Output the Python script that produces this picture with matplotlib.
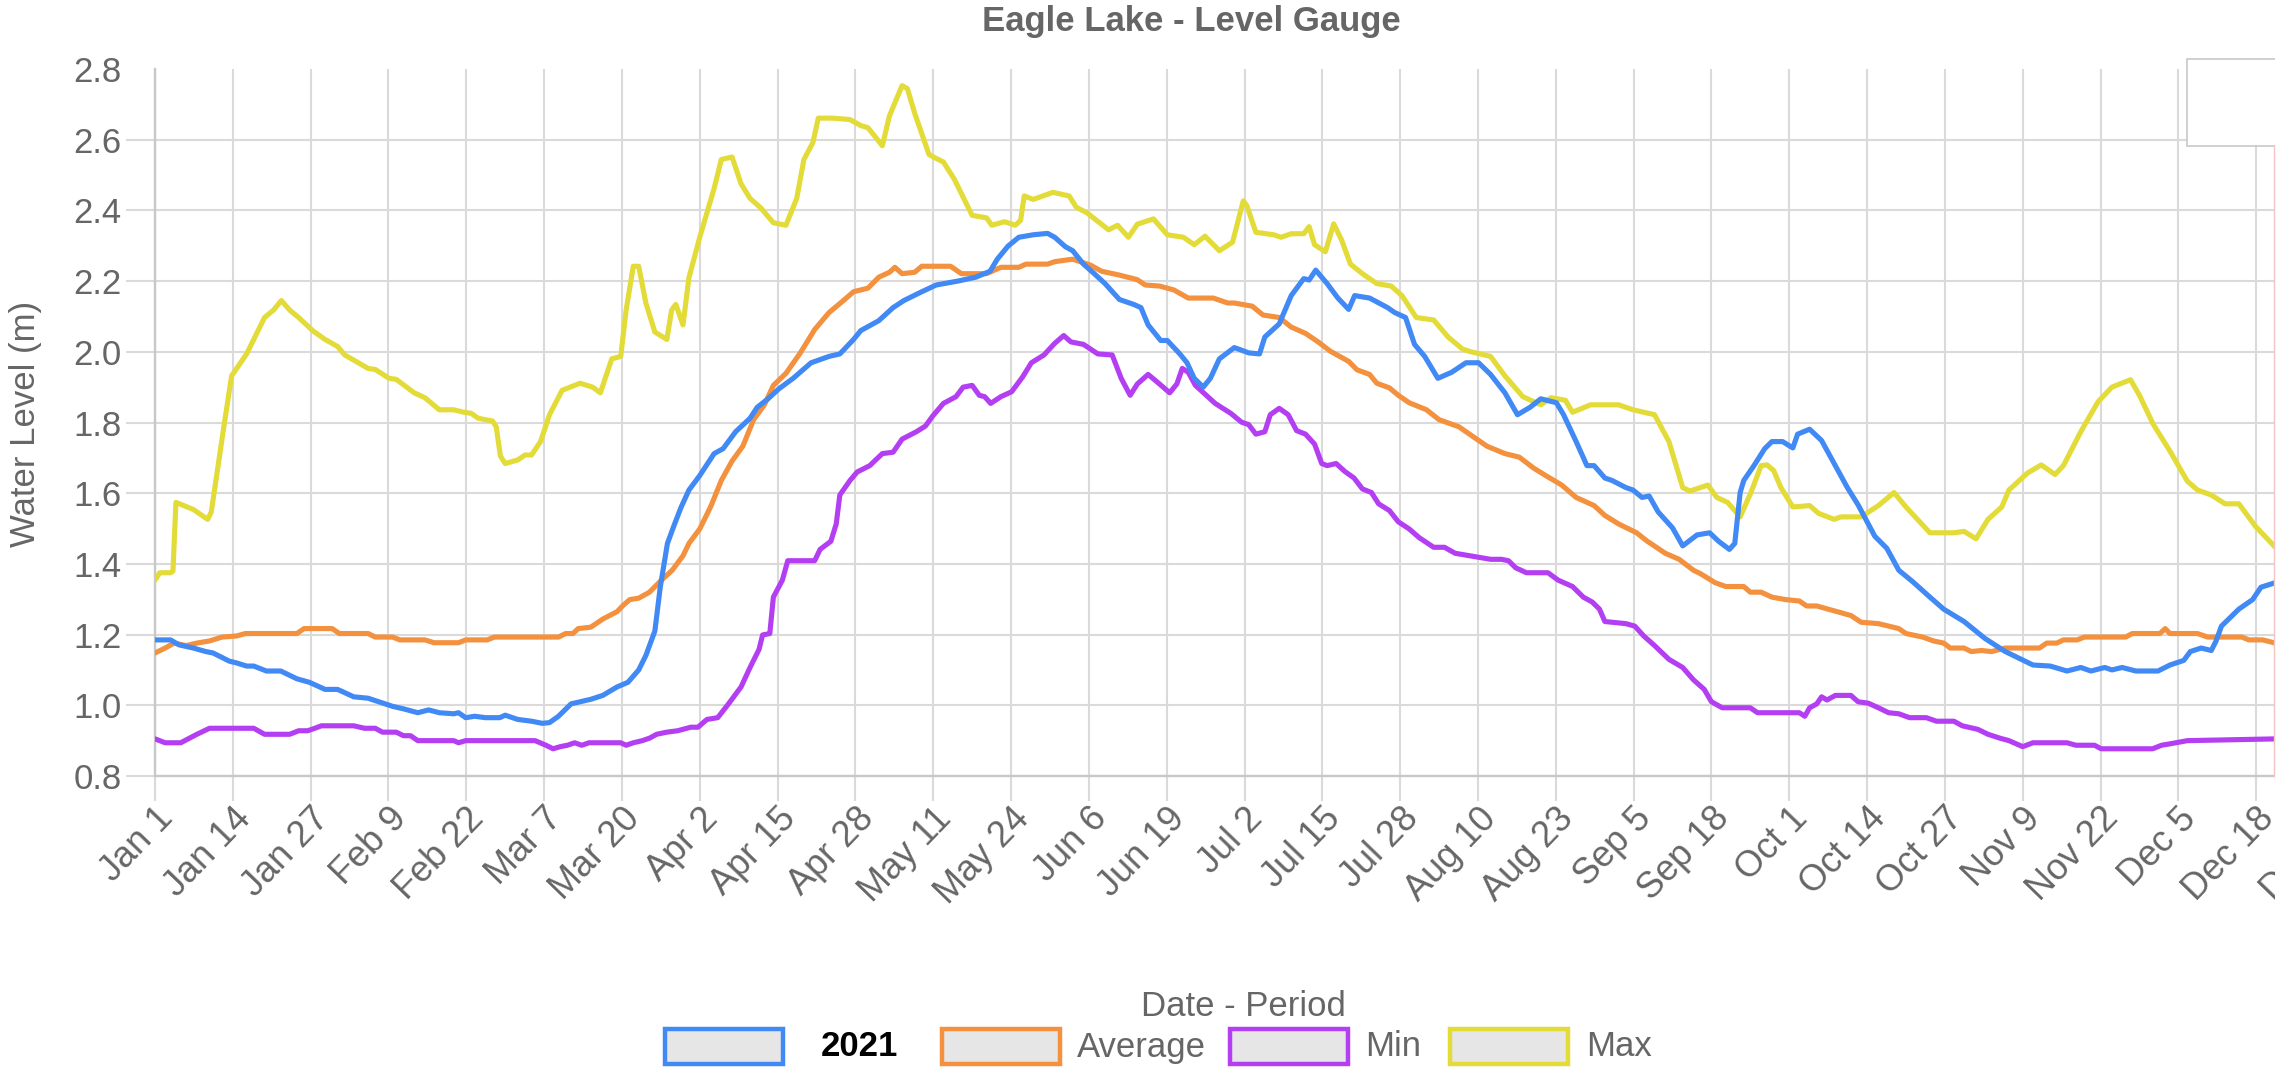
"""
Eagle Lake - Level Gauge
"""
import matplotlib.pyplot as plt
from matplotlib.patches import Rectangle
from matplotlib.lines import Line2D

plt.rcParams['font.family'] = ['Liberation Sans', 'DejaVu Sans']

# x axis: day of year (Jan 1 = 0), a label every 13 days
tick_days = list(range(0, 365, 13))
tick_labels = ["Jan 1", "Jan 14", "Jan 27", "Feb 9", "Feb 22", "Mar 7", "Mar 20",
               "Apr 2", "Apr 15", "Apr 28", "May 11", "May 24", "Jun 6", "Jun 19",
               "Jul 2", "Jul 15", "Jul 28", "Aug 10", "Aug 23", "Sep 5", "Sep 18",
               "Oct 1", "Oct 14", "Oct 27", "Nov 9", "Nov 22", "Dec 5", "Dec 18",
               "Dec 31"]
y_ticks = [0.8, 1.0, 1.2, 1.4, 1.6, 1.8, 2.0, 2.2, 2.4, 2.6, 2.8]

# (day, level in m)
level_2021 = [
    (0, 1.185), (2.6, 1.185), (4, 1.171), (6.4, 1.162), (8.5, 1.152), (9.7, 1.148),
    (12.4, 1.125), (13.6, 1.12), (15.3, 1.111), (16.5, 1.111), (18.6, 1.097), (21, 1.097),
    (23.7, 1.075), (25.8, 1.065), (28.4, 1.045), (30.5, 1.045), (33.2, 1.024), (35.6, 1.02),
    (37.4, 1.01), (39.7, 0.997), (41.5, 0.99), (43.9, 0.979), (45.7, 0.987), (47.5, 0.979),
    (49.9, 0.976), (50.7, 0.979), (51.9, 0.965), (53.4, 0.969), (55.2, 0.965), (57.6, 0.965),
    (58.5, 0.972), (60.6, 0.96), (62.9, 0.955), (64.7, 0.949), (65.9, 0.951), (67.4, 0.969),
    (69.5, 1.004), (71, 1.01), (72.8, 1.017), (74.8, 1.028), (77.2, 1.052), (79, 1.065),
    (80.8, 1.1), (82, 1.141), (83.5, 1.21), (84.4, 1.334), (85.6, 1.458), (86.8, 1.513),
    (87.9, 1.561), (89.2, 1.609), (91, 1.65), (93.4, 1.712), (94.9, 1.726), (97, 1.774),
    (99.4, 1.812), (100.6, 1.843), (102.4, 1.867), (104.2, 1.895), (106.6, 1.925),
    (109.6, 1.969), (112.6, 1.987), (114.4, 1.994), (116.7, 2.035), (117.9, 2.06),
    (120.9, 2.088), (123.3, 2.125), (125.1, 2.145), (128.1, 2.17), (130.5, 2.189),
    (134.1, 2.2), (137.1, 2.211), (139.5, 2.228), (140.7, 2.262), (142.5, 2.299),
    (144.3, 2.324), (146.7, 2.331), (149.1, 2.335), (150.3, 2.324), (152.1, 2.297),
    (153.3, 2.286), (155.1, 2.248), (156.9, 2.221), (158.7, 2.193), (161.1, 2.148),
    (163.5, 2.134), (164.7, 2.125), (165.9, 2.076), (168, 2.032), (169.1, 2.032),
    (171.2, 1.994), (172.4, 1.969), (173.6, 1.925), (175.1, 1.9), (176.3, 1.925),
    (177.8, 1.98), (180.3, 2.012), (182.7, 1.997), (184.5, 1.994), (185.4, 2.042),
    (187.8, 2.079), (189.8, 2.159), (191.9, 2.207), (192.8, 2.203), (193.9, 2.231),
    (195.8, 2.193), (197.6, 2.152), (199.4, 2.12), (200.4, 2.159), (202.9, 2.152),
    (205.9, 2.125), (207.1, 2.111), (208.9, 2.097), (210.4, 2.021), (212.1, 1.987),
    (214.3, 1.925), (216.6, 1.942), (219, 1.969), (221.1, 1.969), (223.1, 1.936),
    (225.5, 1.884), (227.6, 1.822), (229.7, 1.843), (231.5, 1.867), (234.1, 1.856),
    (235.3, 1.822), (237.4, 1.746), (239.2, 1.678), (240.4, 1.678), (242.2, 1.643),
    (243.4, 1.636), (245.7, 1.616), (246.9, 1.609), (248.4, 1.588), (249.6, 1.592),
    (251.1, 1.547), (253.5, 1.502), (255.2, 1.451), (257.6, 1.482), (259.7, 1.488),
    (261.2, 1.464), (263, 1.441), (263.9, 1.458), (264.8, 1.602), (265.4, 1.636),
    (267.1, 1.678), (268.9, 1.726), (270.1, 1.746), (271.9, 1.746), (273.6, 1.728),
    (274.4, 1.767), (276.4, 1.781), (278.4, 1.749), (280.5, 1.684), (282.7, 1.616),
    (284.5, 1.567), (287.3, 1.478), (289.3, 1.444), (291.3, 1.382), (293.6, 1.35),
    (296.5, 1.306), (298.8, 1.272), (302.2, 1.237), (305.7, 1.189), (309.1, 1.152),
    (313.7, 1.114), (316.6, 1.111), (319.4, 1.097), (321.7, 1.107), (323.4, 1.097),
    (325.7, 1.107), (326.9, 1.1), (328.6, 1.107), (330.9, 1.097), (334.6, 1.097),
    (336.6, 1.114), (338.9, 1.127), (340, 1.152), (341.8, 1.162), (343.5, 1.155),
    (344.3, 1.182), (345.2, 1.224), (348.1, 1.272), (350.4, 1.299), (351.8, 1.334),
    (354.2, 1.347),
]

level_avg = [
    (0, 1.148), (1.7, 1.162), (3.2, 1.176), (5.2, 1.169), (7, 1.176), (9.1, 1.182),
    (11.2, 1.193), (13.6, 1.196), (15.1, 1.203), (23.7, 1.203), (24.9, 1.217), (29.6, 1.217),
    (30.8, 1.203), (35.6, 1.203), (36.8, 1.193), (39.7, 1.193), (40.9, 1.185), (45.1, 1.185),
    (46.6, 1.177), (50.7, 1.177), (51.9, 1.185), (55.5, 1.185), (56.7, 1.193), (67.4, 1.193),
    (68.6, 1.203), (69.8, 1.203), (70.7, 1.217), (72.8, 1.221), (74.8, 1.244), (77.2, 1.265),
    (78.1, 1.281), (79.3, 1.299), (80.8, 1.303), (82.6, 1.32), (84.6, 1.354), (86.4, 1.382),
    (88.2, 1.423), (89.2, 1.458), (91, 1.499), (92.8, 1.561), (94.6, 1.636), (96.4, 1.691),
    (98.2, 1.733), (100, 1.808), (101.8, 1.85), (103.3, 1.905), (105.4, 1.939),
    (107.8, 1.997), (110.2, 2.063), (112.6, 2.111), (115, 2.145), (116.7, 2.17),
    (119.1, 2.18), (120.9, 2.211), (122.7, 2.225), (123.6, 2.239), (124.8, 2.221),
    (126.9, 2.225), (128.1, 2.242), (132.9, 2.242), (134.7, 2.221), (138.9, 2.221),
    (141.3, 2.239), (144.3, 2.239), (145.5, 2.248), (149.1, 2.248), (150.3, 2.255),
    (153.3, 2.262), (156.3, 2.245), (158.1, 2.228), (161.1, 2.217), (164.1, 2.204),
    (165.4, 2.189), (167.8, 2.186), (170.2, 2.175), (172.6, 2.152), (176.8, 2.152),
    (179.2, 2.138), (180.3, 2.138), (183.3, 2.129), (185.1, 2.104), (187.8, 2.097),
    (189.8, 2.07), (192.2, 2.052), (194.3, 2.028), (196.4, 2.001), (199.4, 1.973),
    (200.8, 1.949), (202.9, 1.936), (204.1, 1.911), (206.2, 1.898), (207.7, 1.877),
    (209.5, 1.856), (212.4, 1.836), (214.5, 1.808), (217.8, 1.788), (219.6, 1.767),
    (222.5, 1.733), (225.5, 1.712), (227.9, 1.702), (230.3, 1.671), (232.6, 1.647),
    (235, 1.623), (237.4, 1.588), (240.4, 1.565), (242.2, 1.537), (244.5, 1.513),
    (247.5, 1.488), (249.3, 1.464), (252.3, 1.43), (254.6, 1.413), (257, 1.382),
    (258.2, 1.372), (260.6, 1.347), (262.4, 1.336), (265.4, 1.336), (266.5, 1.32),
    (268.3, 1.32), (270.1, 1.306), (272.4, 1.299), (274.7, 1.295), (275.9, 1.281),
    (277.6, 1.281), (281, 1.265), (283.3, 1.254), (285, 1.235), (287.9, 1.231),
    (289.6, 1.224), (291.3, 1.217), (292.5, 1.203), (295.3, 1.193), (297.1, 1.182),
    (298.8, 1.176), (299.9, 1.162), (302.2, 1.162), (303.4, 1.152), (305.1, 1.155),
    (306.8, 1.152), (309.1, 1.162), (314.8, 1.162), (316, 1.176), (317.7, 1.176),
    (318.8, 1.185), (321.1, 1.185), (322.3, 1.193), (329.2, 1.193), (330.3, 1.203),
    (334.9, 1.203), (335.8, 1.217), (336.6, 1.203), (341.2, 1.203), (342.9, 1.193),
    (348.6, 1.193), (349.8, 1.185), (352.1, 1.185), (354.2, 1.176),
]

level_min = [
    (0, 0.905), (1.7, 0.894), (4.3, 0.894), (7, 0.918), (9.1, 0.935), (16.5, 0.935),
    (18.3, 0.918), (22.5, 0.918), (24, 0.928), (25.5, 0.928), (26.7, 0.935), (27.8, 0.942),
    (33.2, 0.942), (35, 0.935), (36.8, 0.935), (38, 0.924), (40.3, 0.924), (41.5, 0.914),
    (42.7, 0.914), (43.9, 0.9), (49.9, 0.9), (50.7, 0.894), (51.9, 0.9), (63.5, 0.9),
    (65.3, 0.887), (66.5, 0.877), (67.7, 0.883), (68.9, 0.887), (70.1, 0.894), (71.3, 0.887),
    (72.5, 0.894), (77.8, 0.894), (78.7, 0.887), (79.9, 0.894), (81.4, 0.9), (82.6, 0.907),
    (83.8, 0.918), (85.5, 0.924), (87.3, 0.928), (89.5, 0.938), (90.7, 0.938), (92.2, 0.96),
    (94, 0.965), (95.8, 1.004), (97.9, 1.052), (99.4, 1.107), (100.9, 1.158), (101.5, 1.199),
    (102.7, 1.203), (103.3, 1.306), (104.8, 1.354), (105.7, 1.409), (110.2, 1.409),
    (111.1, 1.441), (112.9, 1.464), (113.8, 1.513), (114.4, 1.595), (116.1, 1.636),
    (117.3, 1.66), (119.4, 1.678), (121.5, 1.712), (123.3, 1.716), (124.8, 1.753),
    (127.2, 1.774), (128.7, 1.79), (129.9, 1.818), (131.7, 1.854), (133.8, 1.873),
    (135, 1.9), (136.5, 1.905), (137.7, 1.877), (138.6, 1.873), (139.6, 1.854),
    (141.3, 1.873), (143.1, 1.887), (144.9, 1.928), (146.4, 1.969), (148.5, 1.991),
    (150.3, 2.024), (151.8, 2.046), (153, 2.028), (155.1, 2.021), (157.5, 1.994),
    (159.9, 1.991), (161.4, 1.925), (162.9, 1.877), (164.1, 1.909), (165.9, 1.936),
    (167.8, 1.909), (169.5, 1.884), (170.7, 1.909), (171.6, 1.953), (172.6, 1.942),
    (173.8, 1.905), (175.6, 1.877), (177.1, 1.854), (179.7, 1.826), (181.5, 1.801),
    (182.7, 1.794), (183.9, 1.767), (185.4, 1.774), (186.3, 1.822), (187.8, 1.84),
    (189.3, 1.822), (190.7, 1.777), (192.2, 1.767), (193.7, 1.739), (194.9, 1.684),
    (195.8, 1.678), (197.3, 1.684), (198.8, 1.661), (200.3, 1.643), (201.7, 1.612),
    (203.2, 1.602), (204.4, 1.57), (206.2, 1.551), (207.7, 1.519), (209.5, 1.499),
    (211.2, 1.474), (213.6, 1.447), (215.4, 1.447), (217.2, 1.43), (219.6, 1.423),
    (223.1, 1.413), (224.9, 1.413), (226.1, 1.409), (227.3, 1.389), (229.1, 1.375),
    (232.7, 1.375), (234.4, 1.354), (236.8, 1.336), (238.6, 1.306), (240.1, 1.292),
    (241.3, 1.272), (242.2, 1.237), (245.7, 1.231), (247.2, 1.224), (248.7, 1.196),
    (250.5, 1.169), (252.9, 1.13), (255.2, 1.107), (257, 1.072), (258.8, 1.045),
    (260, 1.01), (261.8, 0.993), (266.5, 0.993), (267.7, 0.979), (274.7, 0.979),
    (275.6, 0.969), (276.4, 0.993), (277.6, 1.004), (278.4, 1.024), (279.3, 1.015),
    (280.7, 1.028), (283.3, 1.028), (284.5, 1.01), (286.2, 1.006), (287.9, 0.993),
    (289.6, 0.979), (291.3, 0.976), (293.1, 0.965), (295.9, 0.965), (297.6, 0.955),
    (300.5, 0.955), (301.9, 0.942), (304.5, 0.932), (306.2, 0.918), (308.2, 0.907),
    (309.7, 0.9), (312, 0.883), (313.7, 0.894), (319.4, 0.894), (320.9, 0.887),
    (324, 0.887), (325.1, 0.877), (333.7, 0.877), (335.2, 0.887), (336.6, 0.891),
    (339.5, 0.9), (354.2, 0.905),
]

level_max = [
    (0, 1.354), (0.8, 1.375), (2.6, 1.375), (3, 1.38), (3.5, 1.574), (6.4, 1.554),
    (8.8, 1.526), (9.4, 1.547), (11.5, 1.788), (12.8, 1.932), (15.3, 1.994), (18.3, 2.097),
    (19.8, 2.118), (21.1, 2.145), (22.5, 2.118), (24, 2.097), (26.4, 2.059), (28.4, 2.035),
    (30.5, 2.015), (31.7, 1.991), (35.6, 1.953), (36.8, 1.95), (39.1, 1.925), (40.3, 1.922),
    (43.3, 1.884), (45.1, 1.87), (47.5, 1.836), (49.9, 1.836), (51.6, 1.829), (52.8, 1.826),
    (54, 1.812), (56.4, 1.804), (57, 1.788), (57.7, 1.705), (58.5, 1.684), (60.6, 1.694),
    (61.8, 1.708), (62.9, 1.708), (64.4, 1.746), (65.9, 1.822), (68, 1.891), (71, 1.911),
    (73.1, 1.9), (74.4, 1.884), (76.3, 1.98), (77.8, 1.987), (78.7, 2.118), (79.9, 2.242),
    (80.8, 2.242), (82, 2.138), (83.5, 2.056), (85.5, 2.035), (86.3, 2.118), (87, 2.134),
    (88.2, 2.076), (89.2, 2.21), (91, 2.324), (93.4, 2.462), (94.6, 2.544), (96.4, 2.551),
    (97.9, 2.475), (99.4, 2.434), (101.2, 2.407), (103.3, 2.365), (105.4, 2.358),
    (107.2, 2.434), (108.4, 2.544), (109.9, 2.592), (110.8, 2.661), (113.2, 2.661),
    (116.1, 2.657), (117.9, 2.64), (119.1, 2.634), (121.5, 2.583), (122.7, 2.668),
    (124.8, 2.753), (125.7, 2.744), (126.9, 2.675), (129.3, 2.558), (130.5, 2.547),
    (131.7, 2.537), (133.5, 2.489), (135.3, 2.427), (136.5, 2.386), (138.9, 2.379),
    (139.8, 2.358), (141.9, 2.368), (143.7, 2.358), (144.6, 2.372), (145.2, 2.441),
    (146.7, 2.431), (150, 2.451), (152.7, 2.441), (153.9, 2.409), (155.7, 2.393),
    (157.8, 2.365), (159.3, 2.345), (160.8, 2.358), (162.6, 2.324), (164.1, 2.361),
    (166.8, 2.376), (169.1, 2.331), (171.8, 2.324), (173.6, 2.303), (175.4, 2.327),
    (177.8, 2.286), (180, 2.31), (181.8, 2.427), (182.4, 2.413), (183.9, 2.338),
    (186.9, 2.331), (188.1, 2.324), (189.8, 2.334), (191.9, 2.334), (192.8, 2.354),
    (193.7, 2.303), (195.5, 2.283), (196.9, 2.362), (198.2, 2.317), (199.7, 2.248),
    (201.7, 2.221), (204.1, 2.193), (206.5, 2.186), (208.3, 2.159), (210.7, 2.097),
    (213.6, 2.09), (216, 2.042), (218.4, 2.008), (219.6, 2.001), (223.1, 1.987),
    (225.5, 1.932), (228.5, 1.873), (231.5, 1.85), (233.2, 1.87), (235.6, 1.863),
    (236.8, 1.829), (239.8, 1.85), (244.5, 1.85), (246.9, 1.836), (250.5, 1.822),
    (252.9, 1.746), (255.2, 1.616), (256.4, 1.606), (259.4, 1.623), (260.9, 1.588),
    (262.7, 1.574), (264.8, 1.533), (266.6, 1.602), (268.3, 1.678), (269.3, 1.68),
    (270.4, 1.664), (271.6, 1.616), (273.6, 1.561), (276.4, 1.565), (277.9, 1.543),
    (280.5, 1.526), (281.6, 1.533), (285, 1.533), (287.9, 1.565), (290.5, 1.602),
    (292.5, 1.561), (294.8, 1.519), (296.5, 1.488), (300.5, 1.488), (302.2, 1.492),
    (304.2, 1.471), (306.2, 1.526), (308.5, 1.561), (309.7, 1.609), (312.8, 1.657),
    (315.1, 1.68), (317.4, 1.653), (318.8, 1.678), (321.7, 1.774), (324.6, 1.859),
    (326.9, 1.9), (330, 1.921), (331.5, 1.877), (333.8, 1.795), (336.6, 1.719),
    (339.5, 1.634), (341.2, 1.609), (343.5, 1.595), (345.8, 1.57), (348.1, 1.57),
    (350.9, 1.506), (354.2, 1.447),
]

series_names = ["2021", "Average", "Min", "Max"]
series_colors = ["#4189f5", "#f3913e", "#b43ff2", "#e3db38"]

# pixel layout of the screenshot
W, H = 2295, 1067


def fx(px):
    return px / W


def fy(py):
    return 1 - py / H


TXT = "#666666"
GRID = "#dadada"
CROP_X = 2275  # the screenshot content stops here, white strip after it

fig = plt.figure(figsize=(W / 100, H / 100), dpi=100)
# plot area runs past the cropped right edge of the screenshot
ax = fig.add_axes([fx(155), fy(776), fx(2334) - fx(155), fy(69) - fy(776)])

all_series = [level_2021, level_avg, level_min, level_max]
for i in range(3, -1, -1):
    days = [p[0] for p in all_series[i]]
    vals = [p[1] for p in all_series[i]]
    ax.plot(days, vals, color=series_colors[i], lw=3.7,
            solid_joinstyle='round', solid_capstyle='round', zorder=3 + (3 - i))

ax.set_xlim(0, 364)
ax.set_ylim(0.8, 2.8)
ax.set_xticks(tick_days)
ax.set_xticklabels(tick_labels, rotation=46, ha='right', va='top',
                   rotation_mode='anchor', fontsize=26, color=TXT)
ax.set_yticks(y_ticks)
ax.set_yticklabels([f"{v:.1f}" for v in y_ticks], fontsize=25, color=TXT)
ax.tick_params(axis='x', length=18, width=1.5, color=GRID, pad=0)
ax.tick_params(axis='y', length=21, width=1.5, color=GRID, pad=3)
ax.grid(True, color=GRID, lw=1.5)
ax.set_axisbelow(True)

# no line at the 2.8 level
top_tick = ax.yaxis.get_major_ticks()[-1]
top_tick.gridline.set_visible(False)
top_tick.tick1line.set_visible(False)

for side in ['top', 'right']:
    ax.spines[side].set_visible(False)
for side in ['left', 'bottom']:
    ax.spines[side].set_color('#c8c8c8')
    ax.spines[side].set_linewidth(1.7)

fig.text(fx(1191), fy(22), "Eagle Lake - Level Gauge", ha='center', va='center',
         fontsize=25, fontweight='bold', color=TXT)
fig.text(fx(26), fy(424), "Water Level (m)", rotation=90, ha='center', va='center',
         fontsize=25, color=TXT)
fig.text(fx(1243), fy(1007), "Date - Period", ha='center', va='center',
         fontsize=25, color=TXT)

# legend, drawn by hand
box_left = [665, 942, 1230, 1450]
label_left = [821, 1077, 1365, 1586]
for i in range(4):
    r = Rectangle((fx(box_left[i]), fy(1064)), fx(118), fy(1029) - fy(1064),
                  transform=fig.transFigure, facecolor='#e6e6e6',
                  edgecolor=series_colors[i], lw=3.2)
    fig.add_artist(r)
    if i == 0:
        fig.text(fx(label_left[i]), fy(1047), series_names[i], ha='left', va='center',
                 fontsize=25, fontweight='bold', color='black')
    else:
        fig.text(fx(label_left[i]), fy(1047), series_names[i], ha='left', va='center',
                 fontsize=25, color=TXT)

# blank tooltip box in the top right corner
tip = Rectangle((fx(2187), fy(146)), fx(150), fy(59) - fy(146), transform=fig.transFigure,
                facecolor='white', edgecolor='#c8c8c8', lw=1.2, zorder=10)
fig.add_artist(tip)
# white strip where the screenshot was cropped, with its thin pink edge
fig.add_artist(Rectangle((fx(CROP_X), 0), fx(W - CROP_X) + 0.01, 1.0,
                         transform=fig.transFigure, facecolor='white',
                         edgecolor='none', zorder=11))
fig.add_artist(Line2D([fx(CROP_X - 1), fx(CROP_X - 1)], [fy(776), fy(146)],
                      transform=fig.transFigure, color='#f4c4c4', lw=1, zorder=12))

fig.savefig("out.png", dpi=100)
